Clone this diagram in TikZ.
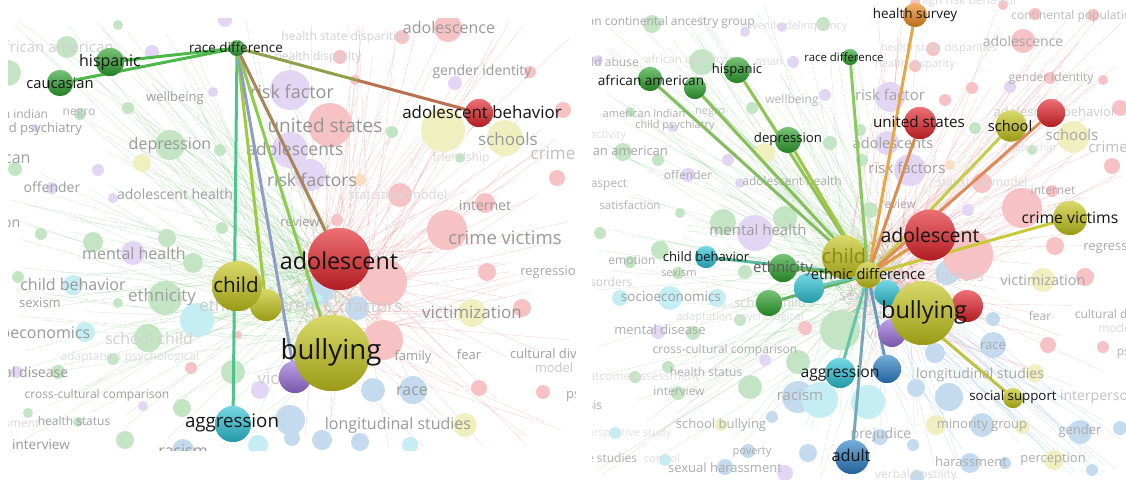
\documentclass[tikz,border=0pt]{standalone}
\usepackage{fontspec}
\setmainfont{Open Sans}
\usetikzlibrary{calc}
\definecolor{vgreen}{HTML}{2EA32E}
\definecolor{vred}{HTML}{E3242B}
\definecolor{vyellow}{HTML}{C5C51C}
\definecolor{vcyan}{HTML}{2CC3D6}
\definecolor{vpurple}{HTML}{9A6ED8}
\definecolor{vblue}{HTML}{2C7FC6}
\definecolor{vorange}{HTML}{EE8A1C}
\definecolor{lblack}{HTML}{141414}
\colorlet{fG}{vgreen}\colorlet{fP}{vpurple}\colorlet{fR}{vred}\colorlet{fY}{vyellow}
\colorlet{fC}{vcyan}\colorlet{fB}{vblue}\colorlet{fO}{vorange}
\definecolor{eGreen}{HTML}{4CB84C}
\definecolor{eOlive}{HTML}{8FA04A}
\definecolor{eBrown}{HTML}{B8704E}
\definecolor{eTeal}{HTML}{4CC48A}
\definecolor{eYG}{HTML}{9CCB3C}
\definecolor{eGB}{HTML}{8E9DC4}
\definecolor{eLG}{HTML}{8CCB4C}
\definecolor{eBr2}{HTML}{A8845A}
\definecolor{eOr}{HTML}{E4A848}
\definecolor{eG1}{HTML}{8CC860}
\definecolor{eG2}{HTML}{90C254}
\definecolor{eG3}{HTML}{84BC60}
\definecolor{eG4}{HTML}{88C058}
\definecolor{eG5}{HTML}{9CC848}
\definecolor{eUS}{HTML}{D89050}
\definecolor{eSch}{HTML}{C4CC48}
\definecolor{eRed}{HTML}{E08A5A}
\definecolor{eCV}{HTML}{C8C838}
\definecolor{eAd}{HTML}{E09A40}
\definecolor{eSS}{HTML}{C0C040}
\definecolor{eAg}{HTML}{64C8A8}
\definecolor{eBl}{HTML}{6A98C0}
\definecolor{eAdu}{HTML}{78A8B8}
\definecolor{eCB}{HTML}{58B8A0}
\definecolor{eSC}{HTML}{60B060}
\definecolor{eEth}{HTML}{70B850}
\definecolor{eCy}{HTML}{70C8B0}
\definecolor{eBu}{HTML}{C8C830}
\newcommand\fsz[1]{\fontsize{#1}{#1}\selectfont}
\tikzset{
  bub/.style 2 args={circle, inner sep=0pt, minimum size=2*#2, top color=#1!65!white, middle color=#1, bottom color=#1!78!black},
  fc/.style 2 args={circle, inner sep=0pt, minimum size=2*#2, fill=#1!28!white},
  fl/.style 2 args={inner sep=0pt, text=black!#2, font=\fsz{#1}},
  hl/.style={inner sep=0pt, text=lblack, font=\fsz{#1}},
  edge/.style={line width=3pt, draw=#1},
  bgl/.style={line width=0.4pt, draw=#1, draw opacity=0.2}
}
\begin{document}
\begin{tikzpicture}[x=1pt,y=-1pt]
\useasboundingbox (0,0) rectangle (1126,479);
\pgfmathsetseed{11}
% ================= LEFT PANEL =================
\begin{scope}
\clip (8,18) rectangle (575,450);
\fill[white] (8,18) rectangle (575,450);
\foreach \i in {1,...,260}{
  \pgfmathsetmacro\ax{290+90*rnd}
  \pgfmathsetmacro\ay{250+100*rnd}
  \pgfmathsetmacro\bx{8+567*rnd}
  \pgfmathsetmacro\by{18+432*rnd}
  \ifdim\bx pt>300pt \def\lc{vred}\else\def\lc{vgreen}\fi
  \draw[bgl=\lc] (\ax,\ay) -- (\bx,\by);
}
\foreach \x/\y/\r/\c [count=\i] in {
8/73/13/fG, 67/47/11/fG, 152/52/7/fP, 225/20/7/fP, 118/25/5/fG, 213/92/5/fP, 128/108/6/fG, 80/114/6/fG,
170/145/15/fG, 220/150/6/fG, 142/163/9/fY, 98/170/6/fP, 15/169/7/fG, 52/188/6/fP, 113/198/5/fP, 35/128/4/fP,
41/234/6/fG, 93/242/10/fG, 167/238/9/fG, 133/253/12/fP, 193/263/10/fG, 222/228/6/fG, 18/277/6/fG, 73/285/10/fC,
118/303/5/fG, 165/298/17/fG, 197/320/17/fC, 85/332/10/fC, 148/338/14/fG, 113/359/6/fG, 191/368/6/fR, 58/372/7/fG,
17/372/6/fP, 233/372/12/fG, 260/390/9/fP, 143/406/5/fP, 182/408/9/fG, 28/413/5/fG, 78/422/5/fG, 125/440/9/fG,
183/450/11/fB, 290/420/15/fB, 258/445/10/fC, 238/335/4/fR,
448/28/14/fR, 340/57/7/fR, 402/37/7/fR, 455/83/7/fP, 530/72/6/fR, 290/90/20/fP, 330/125/22/fR, 392/132/6/fG,
443/130/22/fY, 505/138/18/fY, 460/158/5/fG, 290/150/18/fP, 310/175/16/fP, 400/195/12/fR, 360/180/6/fO, 485/203/10/fR,
447/230/20/fR, 557/178/8/fR, 563/110/8/fR, 355/80/5/fR, 383/282/24/fR, 487/272/9/fR, 472/313/14/fY, 522/308/9/fR,
383/340/20/fR, 320/290/14/fB, 357/308/12/fB, 413/390/14/fB, 479/388/8/fR, 543/392/7/fR, 465/425/12/fY, 373/390/12/fB,
322/440/10/fB, 292/438/8/fB, 360/442/9/fB, 410/445/8/fC, 337/220/6/fR, 315/300/8/fC}
  \node[fc={\c}{\r}] (lc\i) at (\x,\y) {};
\foreach \x/\y/\s/\g/\t [count=\i] in {
449/27/16/40/adolescence, 345/37/12/18/health state disparities, 318/57/12/18/health disparity,
55/47/15/18/african american, 482/72/14/40/gender identity, 292/92/18/42/risk factor,
325/125/19/42/united states, 295/149/17.5/42/adolescents, 312/180/17.5/42/risk factors,
398/195/13/15/statistical model, 508/139/17/40/schools, 553/153/17/25/crime, 461/158/12/15/friendship,
485/205/14/40/internet, 505/238/18.5/40/crime victims, 552/272/13/35/regression,
472/312/17/42/victimization, 413/357/13/38/family, 469/355/13/38/fear, 560/355/13/38/cultural diversity,
554/368/13/22/model, 412/391/16/40/race, 600/395/13/35/psychology, 398/425/16/40/longitudinal studies,
175/98/13/38/wellbeing, 3/114/12/35/american indian, 79/114/12/30/negro, 35/129/13/38/child psychiatry,
170/145/16/40/depression, -26/158/16/38/asian american, 52/187/14/38/offender, 175/194/14/38/adolescent health,
-17/222/14/38/satisfaction, 300/222/13/38/review, 134/253/16/40/mental health, 73/284/16/40/child behavior,
40/303/13/38/sexism, 162/297/17/38/ethnicity, 266/305/17/20/ethnic difference, 375/306/17/20/factors,
31/333/16/40/socioeconomics, 149/338/16/18/school child, 130/357/12/13/adaptation psychological,
19/372/14/40/mental disease, 290/378/17/20/violence, 97/395/12/38/cross-cultural comparison,
74/421/12/38/health status, -20/424/12/15/outcome assessment, 41/445/13.5/40/interview, 183/451/16/40/racism}
  \node[fl={\s}{\g}] (lt\i) at (\x,\y) {\t};
\node[bub={vgreen}{8}] (L-rd) at (237,48) {};
\node[bub={vgreen}{14}] (L-hisp) at (110,62) {};
\node[bub={vgreen}{13}] (L-cauc) at (60,83) {};
\node[bub={vred}{14}] (L-ab) at (479,113) {};
\node[bub={vred}{31}] (L-adol) at (339,259) {};
\node[bub={vyellow}{16}] (L-ed) at (266,305) {};
\node[bub={vyellow}{25}] (L-child) at (237,286) {};
\node[bub={vpurple}{16}] (L-viol) at (295,377) {};
\node[bub={vyellow}{38}] (L-bull) at (332,353) {};
\node[bub={vcyan}{18}] (L-aggr) at (233,424) {};
\coordinate (L-m1) at ($(L-rd)!0.5!(L-ab)$);
\draw[edge=eGreen] (L-rd) -- (L-hisp);
\draw[edge=eGreen] (L-rd) -- (L-cauc);
\draw[edge=eOlive] (L-rd) -- (L-m1);
\draw[edge=eBrown] (L-m1) -- (L-ab);
\draw[edge=eTeal] (L-rd) -- (L-aggr);
\draw[edge=eYG] (L-rd) -- (L-ed);
\draw[edge=eGB] (L-rd) -- (L-viol);
\draw[edge=eLG] (L-rd) -- (L-bull);
\draw[edge=eBr2] (L-rd) -- (L-adol);
\node[bub={vgreen}{8}] (L-rd2) at (237,48) {};
\node[bub={vgreen}{14}] (L-hisp2) at (110,62) {};
\node[bub={vgreen}{13}] (L-cauc2) at (60,83) {};
\node[bub={vred}{14}] (L-ab2) at (479,113) {};
\node[bub={vred}{31}] (L-adol2) at (339,259) {};
\node[bub={vyellow}{16}] (L-ed2) at (266,305) {};
\node[bub={vyellow}{25}] (L-child2) at (237,286) {};
\node[bub={vpurple}{16}] (L-viol2) at (295,377) {};
\node[bub={vyellow}{38}] (L-bull2) at (332,353) {};
\node[bub={vcyan}{18}] (L-aggr2) at (233,424) {};
\node[hl=13.5] (L-t1) at (236,47) {race difference};
\node[hl=16] (L-t2) at (110,62) {hispanic};
\node[hl=14.7] (L-t3) at (60,83) {caucasian};
\node[hl=16.9] (L-t4) at (482,112) {adolescent behavior};
\node[hl=23.3] (L-t5) at (339,261) {adolescent};
\node[hl=20.6] (L-t6) at (236,285) {child};
\node[hl=27.6] (L-t7) at (331,352) {bullying};
\node[hl=18.7] (L-t8) at (232,423) {aggression};
\end{scope}
% ================= RIGHT PANEL =================
\begin{scope}
\clip (592,0) rectangle (1126,479);
\foreach \i in {1,...,300}{
  \pgfmathsetmacro\ax{840+70*rnd}
  \pgfmathsetmacro\ay{240+80*rnd}
  \pgfmathsetmacro\bx{592+534*rnd}
  \pgfmathsetmacro\by{479*rnd}
  \ifdim\bx pt>860pt
    \ifdim\by pt>390pt \def\lc{vblue}\else\def\lc{vred}\fi
  \else\def\lc{vgreen}\fi
  \draw[bgl=\lc] (\ax,\ay) -- (\bx,\by);
}
\foreach \x/\y/\r/\c [count=\i] in {
652/24/9/fG, 823/24/7/fG, 745/32/5/fP, 782/27/5/fP, 702/62/13/fG, 793/62/6/fP, 598/60/5/fP, 825/95/6/fP,
752/108/6/fG, 630/112/5/fG, 672/128/4/fP, 623/152/9/fG, 658/160/6/fG, 728/160/6/fP, 765/153/10/fY, 830/143/7/fG,
688/175/7/fP, 740/183/5/fP, 680/213/5/fG, 723/222/13/fG, 755/233/18/fP, 785/218/12/fG,
915/3/5/fR, 1003/5/5/fR, 1035/14/6/fR, 1093/15/6/fR, 933/49/7/fR, 1023/41/12/fR, 915/66/6/fR, 1050/78/6/fR,
1103/80/5/fR, 1010/87/6/fP, 972/88/6/fR, 890/97/15/fP, 945/100/6/fR, 1120/108/8/fR, 975/128/6/fG, 1073/137/16/fY,
1032/150/5/fG, 887/143/12/fP, 910/170/16/fP, 950/165/5/fO, 982/183/10/fR, 1052/191/6/fR, 1112/166/8/fR, 1022/208/20/fR,
968/210/6/fP, 860/130/6/fG, 862/160/6/fG, 870/210/8/fG,
1055/246/9/fR, 1085/277/9/fR, 1043/280/12/fY, 947/273/12/fB, 968/255/25/fR, 993/319/7/fB, 1048/345/8/fR, 1103/347/6/fR,
993/345/13/fB, 935/353/10/fB, 1035/373/9/fY, 916/388/9/fB, 949/397/14/fB, 868/402/17/fC, 936/425/10/fY, 982/425/12/fB,
1022/427/7/fY, 1080/432/12/fB, 1120/428/7/fB, 880/437/8/fB, 913/445/6/fB, 970/463/10/fB, 1005/463/6/fB, 1054/460/10/fY,
1092/470/6/fB, 917/477/7/fB,
600/233/6/fG, 660/250/9/fG, 630/262/6/fG, 678/273/6/fG, 745/272/7/fG, 620/298/8/fC, 670/298/12/fC, 717/298/9/fC,
740/320/6/fG, 658/332/7/fP, 693/333/7/fG, 805/328/7/fR, 840/330/20/fG, 765/360/6/fP, 798/362/12/fG, 668/367/6/fG,
635/377/6/fG, 678/393/7/fG, 750/387/12/fG, 798/397/16/fB, 772/417/6/fB, 825/412/5/fR, 820/400/18/fC, 615/433/6/fC,
721/425/6/fY, 748/451/7/fB, 665/460/6/fC, 725/467/8/fB, 785/473/8/fP, 808/453/9/fB}
  \node[fc={\c}{\r}] (rc\i) at (\x,\y) {};
\foreach \x/\y/\s/\g/\t [count=\i] in {
659/22/12/35/african continental ancestry group, 795/27/11/15/juvenile delinquency, 968/1/12/15/high risk behavior,
1075/16/12/28/continental population, 1023/41/14/35/adolescence, 939/49/11/15/health state disparities,
915/65/11/15/health disparity, 690/59/11.5/15/african american, 607/62/12/33/child abuse, 769/62/11/15/asian,
1051/78/12/33/gender identity, 644/113/11/33/american indian, 710/113/11/25/negro, 675/126/11/33/child psychiatry,
792/100/12/30/wellbeing, 890/95/15/35/risk factor, 586/136/11/13/physical activity, 622/151/13/35/asian american,
893/143/14.5/38/adolescents, 1072/135/15/35/schools, 1108/147/15/25/crime, 1030/149/11/13/friendship,
688/175/12/33/offender, 792/181/12/33/adolescent health, 907/168/15/38/risk factors, 982/182/12/15/statistical model,
1053/190/12/33/internet, 609/185/12/30/aspect, 630/205/11.5/30/satisfaction, 898/204/12/33/review,
758/230/15/38/mental health, 1115/247/13/33/regression, 632/260/12/33/emotion, 679/273/11/33/sexism,
606/282/12/20/disorders, 671/297/13.5/38/socioeconomics, 770/303/13/18/school child, 740/318/11/13/adaptation psychological,
660/330/13/33/mental disease, 725/350/12/33/cross-cultural comparison, 706/372/12/33/health status,
640/377/12/13/outcome assessment, 679/391/12/33/interview, 800/395/15/33/racism, 580/406/12/33/analysis,
721/425/13/33/school bullying, 626/434/11/12/perspective study, 603/458/12/33/case studies, 662/458/11/13/control,
752/452/11/33/poverty, 725/468/13/33/sexual harassment, 881/435/14/33/prejudice, 916/475/12/15/verbal hostility,
960/276/15/18/factors, 888/295/15/20/sex difference, 895/333/15/20/violence, 1043/280/14.5/35/victimization,
1040/316/12/33/fear, 1121/315/12/33/cultural diversity, 1116/328/12/15/model, 993/346/13/33/race,
1148/352/12/30/psychology, 980/375/14/35/longitudinal studies, 1104/397/14/25/interpersonal,
982/425/13/33/minority group, 1080/431/13/33/gender, 971/462/13/33/harassment, 1053/459/13/33/perception,
1055/112/13/20/adolescent behavior}
  \node[fl={\s}{\g}] (rt\i) at (\x,\y) {\t};
\node[bub={vorange}{12}] (R-hs) at (915,15) {};
\node[bub={vgreen}{8}] (R-rd) at (850,57) {};
\node[bub={vgreen}{13}] (R-hisp) at (737,70) {};
\node[bub={vgreen}{12}] (R-aa) at (650,79) {};
\node[bub={vgreen}{11}] (R-g2) at (695,88) {};
\node[bub={vgreen}{13}] (R-dep) at (788,140) {};
\node[bub={vred}{16}] (R-us) at (920,123) {};
\node[bub={vyellow}{15.5}] (R-sch) at (1011,126) {};
\node[bub={vred}{14}] (R-red1) at (1051,113) {};
\node[bub={vyellow}{17}] (R-cv) at (1070,218) {};
\node[bub={vred}{25.5}] (R-adol) at (930,235) {};
\node[bub={vyellow}{32}] (R-bull) at (923,313) {};
\node[bub={vgreen}{14}] (R-eth) at (783,268) {};
\node[bub={vgreen}{13}] (R-sc) at (769,303) {};
\node[bub={vcyan}{15}] (R-cy1) at (809,288) {};
\node[bub={vyellow}{13}] (R-ed) at (868,275) {};
\node[bub={vcyan}{11}] (R-cb) at (706,257) {};
\node[bub={vcyan}{15}] (R-aggr) at (840,373) {};
\node[bub={vblue}{14}] (R-blue) at (887,369) {};
\node[bub={vblue}{17}] (R-adult) at (852,457) {};
\node[bub={vyellow}{10}] (R-ss) at (1013,398) {};
\draw[edge=eOr] (R-ed) -- (R-hs);
\draw[edge=eG1] (R-ed) -- (R-rd);
\draw[edge=eG2] (R-ed) -- (R-hisp);
\draw[edge=eG3] (R-ed) -- (R-aa);
\draw[edge=eG4] (R-ed) -- (R-g2);
\draw[edge=eG5] (R-ed) -- (R-dep);
\draw[edge=eUS] (R-ed) -- (R-us);
\draw[edge=eSch] (R-ed) -- (R-sch);
\draw[edge=eRed] (R-ed) -- (R-red1);
\draw[edge=eCV] (R-ed) -- (R-cv);
\draw[edge=eAd] (R-ed) -- (R-adol);
\draw[edge=eSS] (R-ed) -- (R-ss);
\draw[edge=eAg] (R-ed) -- (R-aggr);
\draw[edge=eBl] (R-ed) -- (R-blue);
\draw[edge=eAdu] (R-ed) -- (R-adult);
\draw[edge=eCB] (R-ed) -- (R-cb);
\draw[edge=eSC] (R-ed) -- (R-sc);
\draw[edge=eEth] (R-ed) -- (R-eth);
\draw[edge=eCy] (R-ed) -- (R-cy1);
\draw[edge=eBu] (R-ed) -- (R-bull);
\node[bub={vorange}{12}] (R-hsb) at (915,15) {};
\node[bub={vgreen}{8}] (R-rdb) at (850,57) {};
\node[bub={vgreen}{13}] (R-hispb) at (737,70) {};
\node[bub={vgreen}{12}] (R-aab) at (650,79) {};
\node[bub={vgreen}{11}] (R-g2b) at (695,88) {};
\node[bub={vgreen}{13}] (R-depb) at (788,140) {};
\node[bub={vred}{16}] (R-usb) at (920,123) {};
\node[bub={vyellow}{15.5}] (R-schb) at (1011,126) {};
\node[bub={vred}{14}] (R-red1b) at (1051,113) {};
\node[bub={vyellow}{17}] (R-cvb) at (1070,218) {};
\node[bub={vred}{25.5}] (R-adolb) at (930,235) {};
\node[bub={vred}{16}] (R-red2b) at (967,306) {};
\node[bub={vpurple}{14}] (R-violb) at (892,333) {};
\node[bub={vcyan}{13}] (R-cy2b) at (887,293) {};
\node[bub={vyellow}{32}] (R-bullb) at (923,313) {};
\node[bub={vyellow}{22}] (R-childb) at (844,257) {};
\node[bub={vgreen}{14}] (R-ethb) at (783,268) {};
\node[bub={vgreen}{13}] (R-scb) at (769,303) {};
\node[bub={vcyan}{15}] (R-cy1b) at (809,288) {};
\node[bub={vyellow}{13}] (R-edb) at (868,275) {};
\node[bub={vcyan}{11}] (R-cbb) at (706,257) {};
\node[bub={vcyan}{15}] (R-aggrb) at (840,373) {};
\node[bub={vblue}{14}] (R-blueb) at (887,369) {};
\node[bub={vblue}{17}] (R-adultb) at (852,457) {};
\node[bub={vyellow}{10}] (R-ssb) at (1013,398) {};
\node[fl={20}{0}, text=vyellow!70!black] (R-tc) at (844,256) {child};
\node[hl=13.5] (R-t1) at (915,15) {health survey};
\node[hl=11.4] (R-t2) at (844,57) {race difference};
\node[hl=13] (R-t3) at (737,70) {hispanic};
\node[hl=13.6] (R-t4) at (651,80) {african american};
\node[hl=13.2] (R-t5) at (788,139) {depression};
\node[hl=15.2] (R-t6) at (919,122) {united states};
\node[hl=14.7] (R-t7) at (1010,126) {school};
\node[hl=15.8] (R-t8) at (1070,218) {crime victims};
\node[hl=19.5] (R-t9) at (930,235) {adolescent};
\node[fl={15}{65}] (R-t10) at (783,269) {ethnicity};
\node[hl=14.6] (R-t11) at (868,274) {ethnic difference};
\node[hl=23.5] (R-t12) at (924,312) {bullying};
\node[hl=13.1] (R-t13) at (706,257) {child behavior};
\node[hl=15.7] (R-t14) at (840,374) {aggression};
\node[hl=16.3] (R-t15) at (851,455) {adult};
\node[hl=13.3] (R-t16) at (1013,397) {social support};
\end{scope}
\end{tikzpicture}
\end{document}
